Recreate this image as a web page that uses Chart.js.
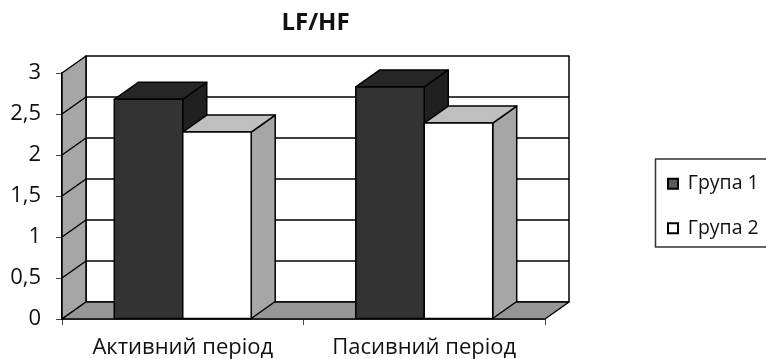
<!DOCTYPE html>
<html lang="uk">
<head>
<meta charset="utf-8">
<script src="https://cdn.jsdelivr.net/npm/chart.js@4.4.1/dist/chart.umd.min.js"></script>
<style>
  html, body { margin: 0; padding: 0; background: #fff; }
  #wrap { width: 766px; height: 359px; }
</style>
</head>
<body>
<div id="wrap"><canvas id="lfhf" width="766" height="359"></canvas></div>
<script>
  // values
  var categories = ['Активний період', 'Пасивний період'];
  var seriesNames = ['Група 1', 'Група 2'];
  var group1 = [2.68, 2.83];
  var group2 = [2.28, 2.39];
  var yMin = 0, yMax = 3, yStep = 0.5;

  // look of the faces
  var frontColors = ['#333333', '#ffffff'];
  var topColors = ['#262626', '#c0c0c0'];
  var sideColors = ['#202020', '#a6a6a6'];
  var legendFill = ['#5a5a5a', '#ffffff'];
  var DX = 24, DY = -17;   // depth of the 3d box
  var FONT = "'Open Sans', 'Noto Sans', sans-serif";
  var INK = '#111111';

  function poly(ctx, pts, fill) {
    ctx.beginPath();
    ctx.moveTo(pts[0][0], pts[0][1]);
    for (var i = 1; i < pts.length; i++) ctx.lineTo(pts[i][0], pts[i][1]);
    ctx.closePath();
    ctx.fillStyle = fill;
    ctx.fill();
    ctx.stroke();
  }

  var box3d = {
    id: 'box3d',
    afterLayout: function(chart) {
      var ca = chart.chartArea;
      // title centred over the whole 3d box
      var t = chart.titleBlock;
      var mid = (ca.left + ca.right + DX) / 2;
      var w = t.right - t.left;
      t.left = mid - w / 2;
      t.right = mid + w / 2;
      // legend to the right of the box
      var lg = chart.legend;
      var pad = lg.options.labels.padding;
      lg.left = 668 - pad;
      lg.top = 174 - pad;
      lg.right = 766;
      lg.bottom = 359;
      lg.width = lg.right - lg.left;
      lg.height = lg.bottom - lg.top;
    },
    beforeDatasetsDraw: function(chart) {
      var ctx = chart.ctx, ca = chart.chartArea, ys = chart.scales.y;
      var y0 = ys.getPixelForValue(yMin), yT = ys.getPixelForValue(yMax);
      ctx.save();
      ctx.strokeStyle = '#000';
      ctx.lineWidth = 1.5;
      ctx.lineJoin = 'round';
      // back wall, left wall, floor
      poly(ctx, [[ca.left + DX, yT + DY], [ca.right + DX, yT + DY], [ca.right + DX, y0 + DY], [ca.left + DX, y0 + DY]], '#ffffff');
      poly(ctx, [[ca.left, yT], [ca.left + DX, yT + DY], [ca.left + DX, y0 + DY], [ca.left, y0]], '#a6a6a6');
      poly(ctx, [[ca.left, y0], [ca.left + DX, y0 + DY], [ca.right + DX, y0 + DY], [ca.right, y0]], '#969696');
      // grid lines on the walls
      ys.ticks.forEach(function(tk) {
        if (tk.value <= yMin || tk.value >= yMax) return;
        var py = ys.getPixelForValue(tk.value);
        ctx.beginPath();
        ctx.moveTo(ca.left, py);
        ctx.lineTo(ca.left + DX, py + DY);
        ctx.lineTo(ca.right + DX, py + DY);
        ctx.stroke();
      });
      // bars, left to right so later ones cover the side of earlier ones
      var metas = chart.data.datasets.map(function(d, i) { return chart.getDatasetMeta(i); });
      for (var c = 0; c < categories.length; c++) {
        metas.forEach(function(meta, d) {
          var el = meta.data[c];
          var l = el.x - el.width / 2, r = el.x + el.width / 2, top = el.y, base = el.base;
          poly(ctx, [[r, top], [r + DX, top + DY], [r + DX, base + DY], [r, base]], sideColors[d]);
          poly(ctx, [[l, top], [l + DX, top + DY], [r + DX, top + DY], [r, top]], topColors[d]);
          poly(ctx, [[l, top], [r, top], [r, base], [l, base]], frontColors[d]);
        });
      }
      ctx.restore();
      return false;
    },
    afterDraw: function(chart) {
      var ctx = chart.ctx, lg = chart.legend;
      var pad = lg.options.labels.padding;
      ctx.save();
      ctx.strokeStyle = '#333';
      ctx.lineWidth = 1.5;
      ctx.strokeRect(655.5, lg.top + pad - 15, 140, 88);
      ctx.restore();
    }
  };

  new Chart(document.getElementById('lfhf'), {
    type: 'bar',
    data: {
      labels: categories,
      datasets: [
        { label: seriesNames[0], data: group1, backgroundColor: frontColors[0], borderColor: '#000', borderWidth: 1.5 },
        { label: seriesNames[1], data: group2, backgroundColor: frontColors[1], borderColor: '#000', borderWidth: 1.5 }
      ]
    },
    options: {
      responsive: false,
      animation: false,
      events: [],
      categoryPercentage: 0.567,
      barPercentage: 1,
      layout: { padding: { left: 0, right: 221, top: 0, bottom: 0 } },
      scales: {
        x: {
          afterFit: function(s) { s.height = 40; },
          grid: { drawOnChartArea: false, drawTicks: true, tickLength: 6, color: '#444' },
          border: { display: true, color: '#000', width: 1.5 },
          ticks: { color: INK, padding: 10, font: { family: FONT, size: 22 } }
        },
        y: {
          min: yMin,
          max: yMax,
          afterFit: function(s) { s.width = 62; },
          grid: { drawOnChartArea: false, drawTicks: true, tickLength: 6, color: '#444' },
          border: { display: true, color: '#000', width: 1.5 },
          ticks: {
            stepSize: yStep,
            color: INK,
            padding: 15,
            font: { family: FONT, size: 22 },
            callback: function(v) { return String(v).replace('.', ','); }
          }
        }
      },
      plugins: {
        title: {
          display: true,
          text: 'LF/HF',
          color: INK,
          font: { family: FONT, size: 24, weight: 'bold' },
          padding: { top: 8.6, bottom: 35.6 }
        },
        legend: {
          position: 'chartArea',
          align: 'start',
          labels: {
            color: INK,
            boxWidth: 10,
            boxHeight: 10,
            padding: 25,
            font: { family: FONT, size: 19.5 },
            generateLabels: function(chart) {
              return Chart.defaults.plugins.legend.labels.generateLabels(chart).map(function(item, i) {
                item.fillStyle = legendFill[i];
                item.strokeStyle = '#000';
                item.lineWidth = 2;
                return item;
              });
            }
          }
        },
        tooltip: { enabled: false }
      }
    },
    plugins: [box3d]
  });
</script>
</body>
</html>
